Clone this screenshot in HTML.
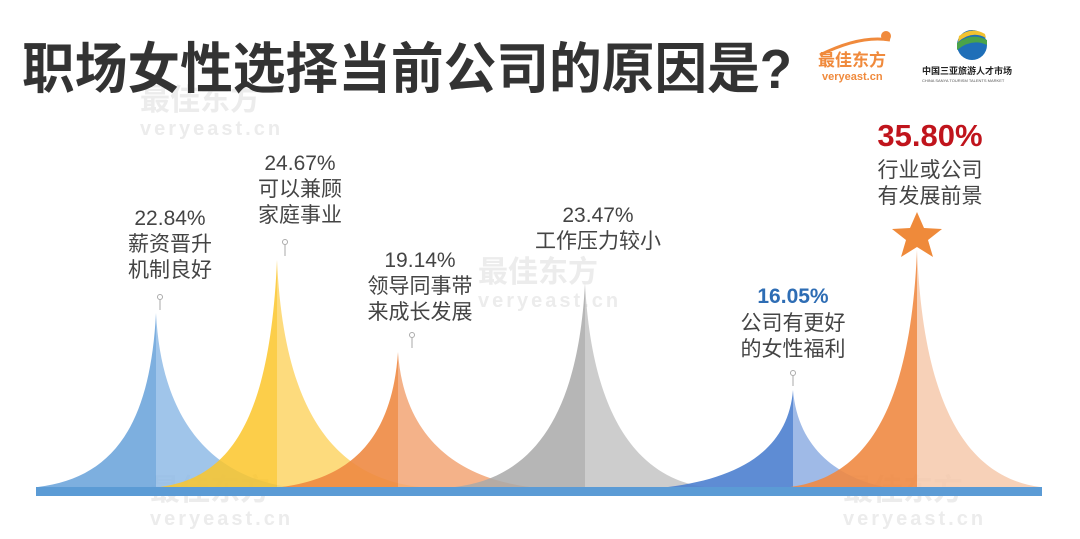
<!DOCTYPE html>
<html><head><meta charset="utf-8"><style>
body{margin:0;width:1080px;height:534px;background:#fff;overflow:hidden;font-family:"Liberation Sans","Noto Sans CJK SC",sans-serif}
</style></head><body>
<svg width="1080" height="534" viewBox="0 0 1080 534" xmlns="http://www.w3.org/2000/svg" font-family="Liberation Sans, Noto Sans CJK SC, sans-serif">
<g fill="#ececec" font-weight="bold">
<text x="140" y="110" font-size="30">最佳东方</text>
<text x="140" y="135" font-size="20" letter-spacing="3">veryeast.cn</text>
<text x="478" y="282" font-size="30">最佳东方</text>
<text x="478" y="307" font-size="20" letter-spacing="3">veryeast.cn</text>
<text x="150" y="500" font-size="30">最佳东方</text>
<text x="150" y="525" font-size="20" letter-spacing="3">veryeast.cn</text>
<text x="843" y="500" font-size="30">最佳东方</text>
<text x="843" y="525" font-size="20" letter-spacing="3">veryeast.cn</text>
</g>
<text x="22" y="88" font-size="55" font-weight="bold" fill="#333" textLength="770" lengthAdjust="spacingAndGlyphs">职场女性选择当前公司的原因是?</text>
<!-- logos -->
<path d="M820 55 Q860 35 890 40" stroke="#f08a3c" stroke-width="3" fill="none"/>
<circle cx="886" cy="36" r="5" fill="#f08a3c"/>
<text x="818" y="66" font-size="17" font-weight="bold" fill="#f08a3c">最佳东方</text>
<text x="822" y="80" font-size="11" font-weight="bold" fill="#f08a3c">veryeast.cn</text>
<circle cx="972" cy="45" r="15" fill="#1f6fb8"/>
<path d="M957 43 Q972 32 987 40 L987 45 Q972 38 957 50Z" fill="#4aa34a"/>
<path d="M959 36 Q972 26 985 34 L986 38 Q972 30 958 42Z" fill="#f2c230"/>
<text x="922" y="74" font-size="9" font-weight="bold" fill="#222">中国三亚旅游人才市场</text>
<text x="922" y="82" font-size="4" fill="#555">CHINA SANYA TOURISM TALENTS MARKET</text>
<!-- peaks -->
<g>
<path d="M38 487 C110 478 150 430 156 313 L156 487Z" fill="#6fa6dc" opacity="0.9"/>
<path d="M156 313 C162 430 220 478 290 487 L156 487Z" fill="#8fbbe6" opacity="0.85"/>
<path d="M160 487 C230 478 270 420 277 260 L277 487Z" fill="#fcc52a" opacity="0.85"/>
<path d="M277 260 C284 420 340 478 420 487 L277 487Z" fill="#fdd566" opacity="0.85"/>
<path d="M282 487 C350 478 392 440 398 352 L398 487Z" fill="#ee8a42" opacity="0.9"/>
<path d="M398 352 C404 440 460 478 530 487 L398 487Z" fill="#f2a574" opacity="0.85"/>
<path d="M455 487 C530 478 578 420 585 283 L585 487Z" fill="#a9a9a9" opacity="0.85"/>
<path d="M585 283 C592 420 640 478 705 487 L585 487Z" fill="#c4c4c4" opacity="0.85"/>
<path d="M668 487 C740 478 788 450 793 390 L793 487Z" fill="#4d7fcf" opacity="0.9"/>
<path d="M793 390 C798 450 840 478 885 487 L793 487Z" fill="#8eaee3" opacity="0.85"/>
<path d="M790 487 C860 478 910 420 917 250 L917 487Z" fill="#ef8a42" opacity="0.9"/>
<path d="M917 250 C924 420 975 478 1040 487 L917 487Z" fill="#f6c9ac" opacity="0.85"/>
</g>
<rect x="36" y="487" width="1006" height="9" fill="#5b9bd5"/>
<polygon points="917,212 924,228 942,229 928,240 933,257 917,247 901,257 906,240 892,229 910,228" fill="#ef8a3a"/>
<g stroke="#aaa" fill="none" stroke-width="1">
<circle cx="160" cy="297" r="2.5"/><line x1="160" y1="300" x2="160" y2="310"/>
<circle cx="285" cy="242" r="2.5"/><line x1="285" y1="245" x2="285" y2="256"/>
<circle cx="412" cy="335" r="2.5"/><line x1="412" y1="338" x2="412" y2="348"/>
<circle cx="793" cy="373" r="2.5"/><line x1="793" y1="376" x2="793" y2="386"/>
</g>
<g font-size="21" fill="#444" text-anchor="middle">
<text x="170" y="225">22.84%</text><text x="170" y="251">薪资晋升</text><text x="170" y="277">机制良好</text>
<text x="300" y="170">24.67%</text><text x="300" y="196">可以兼顾</text><text x="300" y="222">家庭事业</text>
<text x="420" y="267">19.14%</text><text x="420" y="293">领导同事带</text><text x="420" y="319">来成长发展</text>
<text x="598" y="222">23.47%</text><text x="598" y="248">工作压力较小</text>
<text x="793" y="303" font-weight="bold" fill="#2e6db4">16.05%</text><text x="793" y="330">公司有更好</text><text x="793" y="356">的女性福利</text>
<text x="930" y="146" font-size="31" font-weight="bold" fill="#c0141c">35.80%</text><text x="930" y="177">行业或公司</text><text x="930" y="203">有发展前景</text>
</g>
</svg>
</body></html>
